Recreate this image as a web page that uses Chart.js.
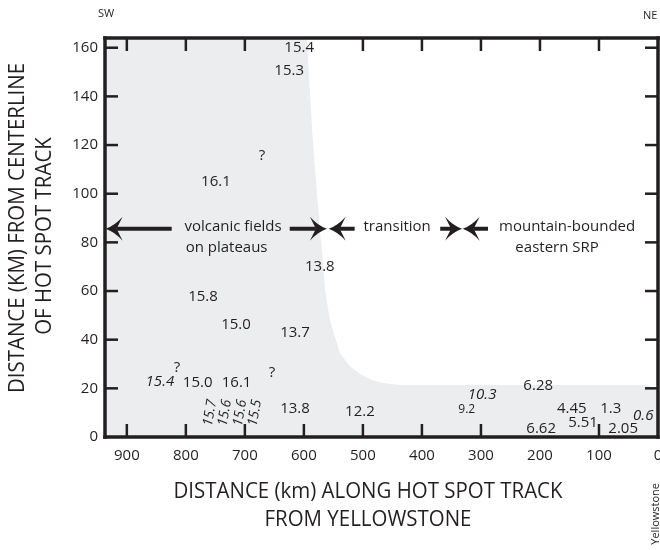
<!DOCTYPE html>
<html>
<head>
<meta charset="utf-8">
<script src="https://cdn.jsdelivr.net/npm/chart.js@4.4.1/dist/chart.umd.min.js"></script>
<style>
html, body { margin: 0; padding: 0; background: #fff; }
</style>
</head>
<body>
<canvas id="chart" width="660" height="550"></canvas>
<script>
// edge of the shaded volcanic field (km along track, km from centerline)
var edgeX = [937, 595, 586, 573, 569, 564, 556, 539, 522, 505, 485, 466, 437, 19, 8, 0];
var edgeY = [164, 164, 126, 85, 76, 60, 48, 34.5, 29, 26, 23.4, 22.2, 21.4, 21.4, 20, 18.5];

// ages (Ma) written on the plot and where they sit
var ageText = ['15.4', '15.3', '?', '16.1', '13.8', '15.8', '15.0', '13.7', '?', '15.4', '15.0', '16.1', '?',
               '15.7', '15.6', '15.6', '15.5', '13.8', '12.2', '10.3', '9.2', '6.28', '4.45', '1.3', '0.6',
               '5.51', '6.62', '2.05'];
var ageX = [608, 625, 671, 749, 573, 771, 715, 615, 815, 844, 780, 714, 654,
            759, 734, 708, 683, 615, 505, 298, 324, 203, 146, 80, 25,
            127, 198, 59];
var ageY = [160, 150.6, 115.6, 104.9, 69.9, 57.6, 46.1, 42.8, 28.4, 22.6, 22.2, 22.2, 26.3,
            9.9, 9.9, 9.9, 9.9, 11.5, 10.3, 17.3, 11.1, 21, 11.5, 11.5, 8.6,
            5.8, 3.3, 3.3];

// province labels and arrows
var zoneText = ['volcanic fields', 'on plateaus', 'transition', 'mountain-bounded', 'eastern SRP'];
var zoneX = [720, 731, 442, 154, 171];
var zoneY = [86.4, 77.7, 86.4, 86.4, 77.7];
var arrowTail = [824, 624, 514, 369, 288];
var arrowTip = [936, 561, 558, 332, 331];
var arrowY = 85.6;

var xTicks = [0, 100, 200, 300, 400, 500, 600, 700, 800, 900];
var yTicks = [0, 20, 40, 60, 80, 100, 120, 140, 160];

var ink = '#231f20';
var fontName = '"Open Sans", "DejaVu Sans", sans-serif';

// n = normal, i = italic, r = rotated italic, s = small
var ageStyle = ['n', 'n', 'n', 'n', 'n', 'n', 'n', 'n', 'n', 'i', 'n', 'n', 'n',
                'r', 'r', 'r', 'r', 'n', 'n', 'i', 's', 'n', 'n', 'n', 'i',
                'n', 'n', 'n'];
// tick marks hidden behind an age label
var hideTop = [600];
var hideBottom = [200];

function txt(ctx, s, x, y, font, align, rot, sx) {
    ctx.save();
    ctx.translate(x, y);
    if (rot) ctx.rotate(rot);
    if (sx) ctx.scale(sx, 1);
    ctx.font = font;
    ctx.textAlign = align || 'center';
    ctx.textBaseline = 'middle';
    ctx.fillStyle = ink;
    ctx.fillText(s, 0, 0);
    ctx.restore();
}

function head(ctx, x, y, dir) {
    ctx.beginPath();
    ctx.moveTo(x, y);
    ctx.quadraticCurveTo(x - dir * 9, y - 3, x - dir * 17, y - 12);
    ctx.lineTo(x - dir * 11, y);
    ctx.lineTo(x - dir * 17, y + 12);
    ctx.quadraticCurveTo(x - dir * 9, y + 3, x, y);
    ctx.closePath();
    ctx.fill();
}

var decor = {
    id: 'decor',
    afterDraw: function(chart) {
        var ctx = chart.ctx;
        var a = chart.chartArea;
        var xs = chart.scales.x, ys = chart.scales.y;
        ctx.save();

        // inward ticks on all four sides
        ctx.fillStyle = ink;
        xTicks.forEach(function(v) {
            if (v <= 0) return;
            var tx = xs.getPixelForValue(v);
            if (hideBottom.indexOf(v) < 0) ctx.fillRect(tx - 1.25, a.bottom - 13, 2.5, 13);
            if (hideTop.indexOf(v) < 0) ctx.fillRect(tx - 1.25, a.top, 2.5, 13);
        });
        yTicks.forEach(function(v) {
            if (v <= 0) return;
            var ty = ys.getPixelForValue(v);
            ctx.fillRect(a.left, ty - 1.25, 13, 2.5);
            ctx.fillRect(a.right - 13, ty - 1.25, 13, 2.5);
        });

        // frame
        var w = 3.5;
        ctx.fillRect(a.left - w / 2, a.top - w / 2, a.right - a.left + w, w);
        ctx.fillRect(a.left - w / 2, a.bottom - w / 2, a.right - a.left + w, w);
        ctx.fillRect(a.left - w / 2, a.top - w / 2, w, a.bottom - a.top + w);
        ctx.fillRect(a.right - w / 2, a.top - w / 2, w, a.bottom - a.top + w);

        // ages
        for (var i = 0; i < ageText.length; i++) {
            var px = xs.getPixelForValue(ageX[i]);
            var py = ys.getPixelForValue(ageY[i]);
            var st = ageStyle[i];
            if (st === 'i') txt(ctx, ageText[i], px, py, 'italic 15px ' + fontName);
            else if (st === 'r') txt(ctx, ageText[i], px, py, 'italic 14px ' + fontName, 'center', -80 * Math.PI / 180);
            else if (st === 's') txt(ctx, ageText[i], px, py, '12px ' + fontName);
            else txt(ctx, ageText[i], px, py, '15px ' + fontName);
        }

        // provinces
        for (var j = 0; j < zoneText.length; j++) {
            txt(ctx, zoneText[j], xs.getPixelForValue(zoneX[j]), ys.getPixelForValue(zoneY[j]), '15px ' + fontName);
        }
        var ay = ys.getPixelForValue(arrowY);
        ctx.strokeStyle = ink;
        ctx.fillStyle = ink;
        ctx.setLineDash([]);
        ctx.lineWidth = 4;
        for (var k = 0; k < arrowTail.length; k++) {
            var x0 = xs.getPixelForValue(arrowTail[k]);
            var x1 = xs.getPixelForValue(arrowTip[k]);
            var dir = x1 > x0 ? 1 : -1;
            ctx.beginPath();
            ctx.moveTo(x0, ay);
            ctx.lineTo(x1 - dir * 11, ay);
            ctx.stroke();
            head(ctx, x1, ay, dir);
        }

        // directions and Yellowstone
        txt(ctx, 'SW', 106, 14, '11px ' + fontName);
        txt(ctx, 'NE', 643, 16, '11px ' + fontName, 'left');
        txt(ctx, 'Yellowstone', 656, 483, '11px ' + fontName, 'right', -Math.PI / 2);

        // axis titles
        var tf = '22px ' + fontName;
        txt(ctx, 'DISTANCE (km) ALONG HOT SPOT TRACK', 368, 492, tf, 'center', 0, 0.93);
        txt(ctx, 'FROM YELLOWSTONE', 368, 520, tf, 'center', 0, 0.93);
        txt(ctx, 'DISTANCE (KM) FROM CENTERLINE', 18, 228, tf, 'center', -Math.PI / 2, 0.93);
        txt(ctx, 'OF HOT SPOT TRACK', 45, 236, tf, 'center', -Math.PI / 2, 0.93);
        ctx.restore();
    }
};

var edge = edgeX.map(function(x, i) { return { x: x, y: edgeY[i] }; });

new Chart(document.getElementById('chart'), {
    type: 'scatter',
    data: {
        datasets: [{
            data: edge,
            showLine: true,
            fill: 'origin',
            backgroundColor: '#ecedef',
            borderWidth: 0,
            pointRadius: 0,
            tension: 0
        }]
    },
    options: {
        responsive: false,
        animation: false,
        layout: { padding: { top: 38, right: 2, left: 0, bottom: 0 } },
        plugins: { legend: { display: false }, tooltip: { enabled: false } },
        scales: {
            x: {
                type: 'linear',
                reverse: true,
                min: 0,
                max: 937,
                afterBuildTicks: function(s) {
                    s.ticks = xTicks.map(function(v) { return { value: v }; });
                },
                afterFit: function(s) { s.height = 113; s.paddingLeft = 0; s.paddingRight = 0; },
                ticks: { color: ink, font: { family: fontName, size: 15 }, padding: 10, maxRotation: 0, autoSkip: false },
                grid: { display: false, drawTicks: false },
                border: { display: false }
            },
            y: {
                min: 0,
                max: 164,
                afterBuildTicks: function(s) {
                    s.ticks = yTicks.map(function(v) { return { value: v }; });
                },
                afterFit: function(s) { s.width = 105; s.paddingTop = 0; s.paddingBottom = 0; },
                ticks: { color: ink, font: { family: fontName, size: 15 }, padding: 7, autoSkip: false },
                grid: { display: false, drawTicks: false },
                border: { display: false }
            }
        }
    },
    plugins: [decor]
});
</script>
</body>
</html>
